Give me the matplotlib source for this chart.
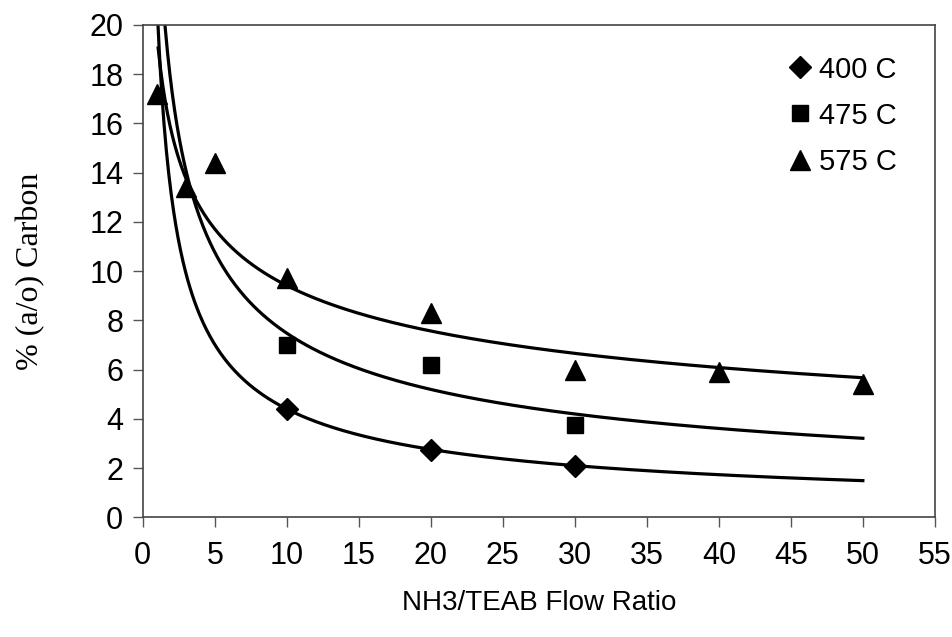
import numpy as np
from matplotlib import pyplot as plt

# data
ratio_400 = [10, 20, 30]
carbon_400 = [4.4, 2.75, 2.1]
ratio_475 = [10, 20, 30]
carbon_475 = [7.0, 6.2, 3.75]
ratio_575 = [1, 3, 5, 10, 20, 30, 40, 50]
carbon_575 = [17.2, 13.4, 14.4, 9.7, 8.3, 6.0, 5.9, 5.4]

labels = ['400 C', '475 C', '575 C']
markers = ['D', 's', '^']
msizes = [11, 12, 14]

x_ticks = list(range(0, 56, 5))
y_ticks = list(range(0, 21, 2))

plt.rcParams['font.family'] = ['Liberation Sans', 'DejaVu Sans']

fig = plt.figure(figsize=(9.52, 6.37), dpi=100)
ax = fig.add_axes([0.150, 0.188, 0.832, 0.773])

series = [(ratio_400, carbon_400), (ratio_475, carbon_475), (ratio_575, carbon_575)]
xx = np.linspace(0.9, 50, 600)
for (xs, ys), lab, m, ms in zip(series, labels, markers, msizes):
    ax.plot(xs, ys, linestyle='none', marker=m, markersize=ms, color='black',
            label=lab, zorder=3)
    # power trend line (like excel)
    b, a = np.polyfit(np.log(xs), np.log(ys), 1)
    x0 = 0.9 if xs[0] > 1 else xs[0]
    xt = xx[xx >= x0]
    ax.plot(xt, np.exp(a) * xt ** b, color='black', linewidth=2.3, zorder=2)

ax.set_xlim(0, 55)
ax.set_ylim(0, 20)
ax.set_xticks(x_ticks)
ax.set_yticks(y_ticks)
ax.tick_params(direction='out', length=7, width=1, colors='#555555',
               labelcolor='black', labelsize=22)
ax.tick_params(axis='x', pad=10)
ax.tick_params(axis='y', pad=7)
for s in ax.spines.values():
    s.set_color('#444444')
    s.set_linewidth(1.2)

ax.set_xlabel('NH3/TEAB Flow Ratio', fontsize=20, labelpad=14)
ax.set_ylabel('% (a/o) Carbon', fontsize=23, family=['Liberation Serif', 'DejaVu Serif'],
              labelpad=32)

ax.legend(loc='upper right', frameon=False, fontsize=21, handletextpad=0.15,
          borderaxespad=0.4, labelspacing=0.62, handlelength=1.0,
          bbox_to_anchor=(0.982, 0.985))

fig.savefig('out.png', dpi=100)
